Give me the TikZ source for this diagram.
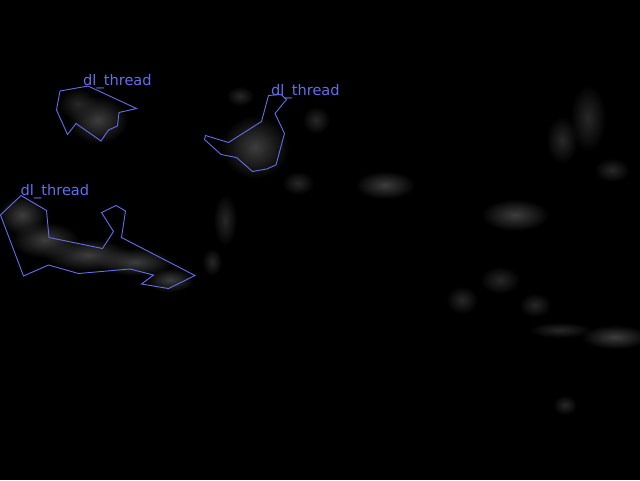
\documentclass[tikz,border=0pt]{standalone}
\usepackage{fontspec}
\usetikzlibrary{fadings}
\setmainfont{DejaVu Sans}
\definecolor{polyblue}{RGB}{100,110,235}
\definecolor{blobgray}{RGB}{62,62,62}
\definecolor{faintgray}{RGB}{40,40,40}
\tikzfading[name=softblob, inner color=transparent!0, outer color=transparent!100]
\begin{document}
\begin{tikzpicture}[x=1pt,y=-1pt,
  blob/.style={fill=blobgray, path fading=softblob},
  faint/.style={fill=faintgray, path fading=softblob},
  poly/.style={draw=polyblue, line width=0.9pt, line join=miter},
  lbl/.style={text=polyblue, font=\fontsize{14.6}{15}\selectfont, inner sep=0pt, anchor=base west}]
\fill[black] (0,0) rectangle (640,480);
\useasboundingbox (0,0) rectangle (640,480);
% blurry blobs
\path[blob] (98,120) ellipse (30 and 24);
\path[faint] (78,104) ellipse (20 and 16);
\path[blob] (255,147) ellipse (34 and 32);
\path[faint] (316,120) ellipse (14 and 14);
\path[faint] (240,96) ellipse (14 and 10);
\path[faint] (298,183) ellipse (16 and 12);
\path[blob] (385,185) ellipse (30 and 14);
\path[faint] (225,220) ellipse (12 and 26);
\path[faint] (212,262) ellipse (10 and 14);
\path[blob] (515,215) ellipse (34 and 16);
\path[faint] (500,280) ellipse (20 and 14);
\path[faint] (462,300) ellipse (16 and 14);
\path[faint] (535,305) ellipse (16 and 12);
\path[faint] (560,330) ellipse (32 and 8);
\path[blob] (615,337) ellipse (34 and 12);
\path[faint] (588,118) ellipse (18 and 34);
\path[faint] (562,140) ellipse (16 and 24);
\path[faint] (565,405) ellipse (12 and 10);
\path[faint] (612,170) ellipse (18 and 12);
\path[blob] (22,215) ellipse (24 and 20);
\path[blob] (45,240) ellipse (34 and 18);
\path[blob] (88,255) ellipse (44 and 16);
\path[blob] (135,262) ellipse (38 and 14);
\path[blob] (170,280) ellipse (24 and 12);
% polygons
\draw[poly] (60,91) -- (88,86) -- (136.5,108.5) -- (119,112.5) -- (117.5,126) -- (108.5,130)
  -- (101,141) -- (76,123.5) -- (67.5,134.5) -- (56.5,110) -- cycle;
\draw[poly] (268.5,95.5) -- (281,94.5) -- (286.5,99.5) -- (275,113.5) -- (284.5,133.5)
  -- (276,165) -- (266.5,169) -- (252.5,171.5) -- (236.5,157.5) -- (221,154.5)
  -- (204.5,139.5) -- (205.5,135.5) -- (228.5,142.5) -- (261.5,121.5) -- cycle;
\draw[poly] (21,195.5) -- (46.5,210.5) -- (49,237.5) -- (102.5,248.5) -- (113.5,231.5)
  -- (101.5,212.5) -- (116,205.5) -- (125.5,211) -- (121.5,237.5) -- (195,275.5)
  -- (168.5,288.5) -- (141.5,284) -- (153.5,275) -- (130,269) -- (78.5,273.5)
  -- (48.5,265) -- (23.5,276) -- (0.5,215) -- cycle;
% labels
\node[lbl] (l1) at (83,85) {dl\_thread};
\node[lbl] (l2) at (271,95) {dl\_thread};
\node[lbl] (l3) at (20.5,195) {dl\_thread};
\end{tikzpicture}
\end{document}
